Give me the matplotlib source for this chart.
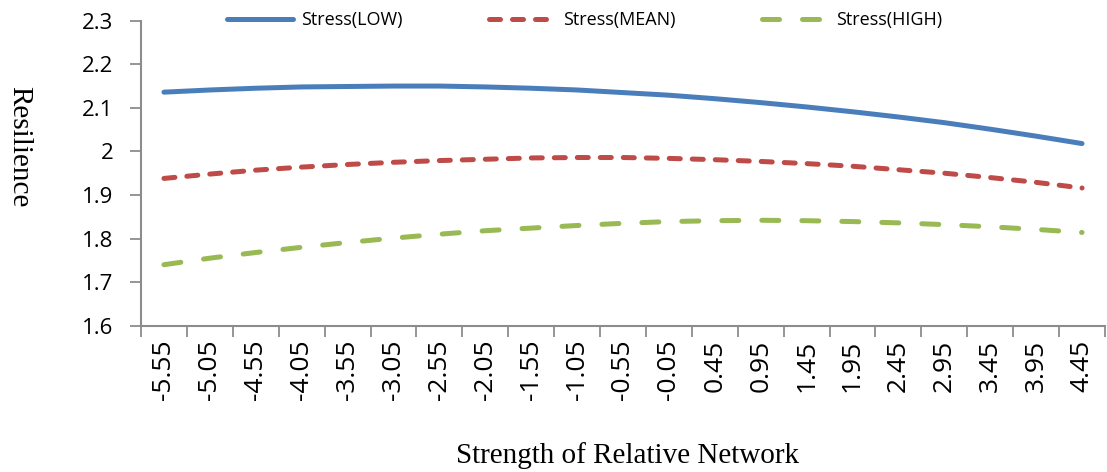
import numpy as np
import matplotlib.pyplot as plt

# network strength categories (centered values)
strength = ["-5.55", "-5.05", "-4.55", "-4.05", "-3.55", "-3.05", "-2.55",
            "-2.05", "-1.55", "-1.05", "-0.55", "-0.05", "0.45", "0.95",
            "1.45", "1.95", "2.45", "2.95", "3.45", "3.95", "4.45"]

stress_low = [2.136, 2.141, 2.145, 2.148, 2.149, 2.150, 2.150, 2.148, 2.145,
              2.141, 2.135, 2.129, 2.121, 2.112, 2.102, 2.091, 2.079, 2.066,
              2.051, 2.035, 2.018]
stress_mean = [1.938, 1.948, 1.957, 1.964, 1.970, 1.975, 1.979, 1.982, 1.985,
               1.986, 1.986, 1.984, 1.981, 1.977, 1.972, 1.966, 1.958, 1.950,
               1.940, 1.929, 1.916]
stress_high = [1.740, 1.755, 1.768, 1.780, 1.791, 1.801, 1.810, 1.818, 1.824,
               1.830, 1.835, 1.839, 1.841, 1.842, 1.841, 1.839, 1.836, 1.832,
               1.827, 1.821, 1.814]

tick_font = "Open Sans"
label_font = "Liberation Serif"
axis_grey = "#8c8c8c"

fig = plt.figure(figsize=(11.07, 4.72), dpi=100)
ax = fig.add_axes([141 / 1107, 1 - 325.7 / 472, 964 / 1107, 305 / 472])

x = np.arange(len(strength))
ax.plot(x, stress_low, color="#4a7ebb", lw=3.6, solid_capstyle="round",
        label="Stress(LOW)")
ax.plot(x, stress_mean, color="#be4b48", lw=3.6, dash_capstyle="round",
        dashes=(2.2, 2.4), label="Stress(MEAN)")
ax.plot(x, stress_high, color="#98b954", lw=3.6, dash_capstyle="round",
        dashes=(3.4, 4.6), label="Stress(HIGH)")

ax.set_xlim(-0.5, len(strength) - 0.5)
ax.set_ylim(1.6, 2.3)
ax.set_yticks(np.arange(1.6, 2.31, 0.1))
ax.set_yticklabels(["1.6", "1.7", "1.8", "1.9", "2", "2.1", "2.2", "2.3"],
                   fontsize=16, family=tick_font)
ax.set_xticks(x)
ax.set_xticklabels(strength, rotation=90, fontsize=19, family=tick_font)
ax.set_xticks(np.arange(-0.5, len(strength)), minor=True)
ax.tick_params(axis="x", which="major", length=0, pad=10)
ax.tick_params(axis="x", which="minor", length=8, width=1.3, color=axis_grey)
ax.tick_params(axis="y", length=8, width=1.3, color=axis_grey, pad=12)

for side in ["top", "right"]:
    ax.spines[side].set_visible(False)
for side in ["left", "bottom"]:
    ax.spines[side].set_color(axis_grey)
    ax.spines[side].set_linewidth(1.5)

ax.set_ylabel("Resilience", family=label_font, fontsize=21, rotation=270,
              labelpad=0)
ax.yaxis.set_label_coords(-0.14, 0.586)
ax.set_xlabel("Strength of Relative Network", family=label_font, fontsize=21)
ax.xaxis.set_label_coords(0.505, -0.38)

leg = ax.legend(loc="upper center", bbox_to_anchor=(0.46, 1.085), ncol=3,
                frameon=False, prop={"family": tick_font, "size": 13},
                handlelength=3.7, columnspacing=4.8, handletextpad=0.4)

fig.savefig("out.png", dpi=100)
